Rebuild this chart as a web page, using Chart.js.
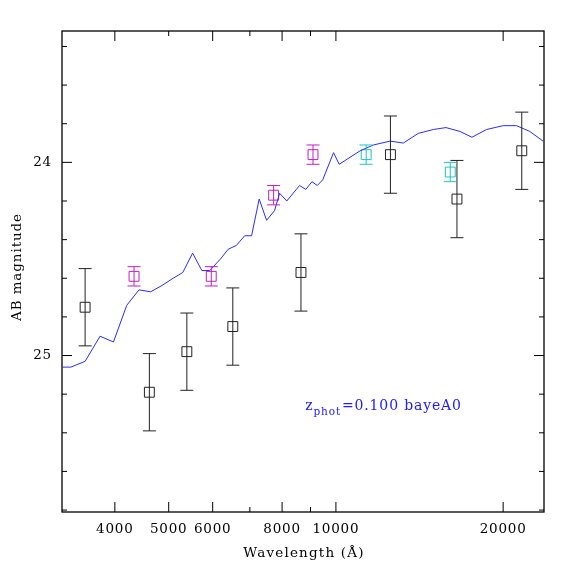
<!DOCTYPE html>
<html>
<head>
<meta charset="utf-8">
<script src="https://cdn.jsdelivr.net/npm/chart.js@4.4.1/dist/chart.umd.min.js"></script>
<style>
  html, body { margin: 0; padding: 0; background: #fff; }
  #wrap { width: 574px; height: 574px; }
</style>
</head>
<body>
<div id="wrap"><canvas id="sedChart" width="574" height="574"></canvas></div>
<script>
// model SED (blue line)
const modelWave = [3220, 3333, 3536, 3762, 3977, 4202, 4421, 4640, 4845, 5093, 5301, 5521, 5737, 5928,
    6198, 6397, 6620, 6850, 7050, 7276, 7502, 7753, 7919, 8157, 8600, 8828, 9056, 9257, 9469, 9901,
    10137, 11057, 11683, 12518, 13224, 14068, 14971, 15780, 16721, 17571, 18668, 20000, 21140, 22336, 23594];
const modelMag = [25.06, 25.06, 25.03, 24.90, 24.93, 24.74, 24.66, 24.67, 24.64, 24.60, 24.57, 24.47, 24.56, 24.56,
    24.50, 24.45, 24.43, 24.38, 24.38, 24.19, 24.30, 24.25, 24.16, 24.20, 24.12, 24.14, 24.10, 24.12, 24.09, 23.95,
    24.01, 23.94, 23.91, 23.89, 23.90, 23.85, 23.83, 23.82, 23.84, 23.87, 23.83, 23.81, 23.81, 23.84, 23.89];

// observed photometry
const blackWave = [3536, 4615, 5391, 6522, 8651, 12535, 16515, 21605];
const blackMag = [24.75, 25.19, 24.98, 24.85, 24.57, 23.96, 24.19, 23.94];
const blackErr = [0.20, 0.20, 0.20, 0.20, 0.20, 0.20, 0.20, 0.20];

const magentaWave = [4331, 5965, 7724, 9094];
const magentaMag = [24.59, 24.59, 24.17, 23.96];
const magentaErr = [0.05, 0.05, 0.05, 0.05];

const cyanWave = [11336, 16065];
const cyanMag = [23.96, 24.05];
const cyanErr = [0.05, 0.05];

// axes
const xLabelTicks = [4000, 5000, 6000, 8000, 10000, 20000];
const xTopMajor = [4000, 6000, 8000, 10000, 20000];
const xTopMinor = [5000, 7000, 9000];
const xBottomMinor = [7000, 9000];
const yLabelTicks = [24, 25];
const yMinorTicks = [23.4, 23.6, 23.8, 24.2, 24.4, 24.6, 24.8, 25.2, 25.4, 25.6, 25.8];

const noteWave = 8809;
const noteMag = 25.28;

const FONT = '"DejaVu Serif", serif';

function toXY(xs, ys) {
    return xs.map((x, i) => ({ x: x, y: ys[i] }));
}

// the reference lettering is wide, so space the glyphs out a little
const wideText = {
    id: 'wideText',
    beforeDraw(chart) { chart.ctx.letterSpacing = '0.8px'; }
};

const errorBars = {
    id: 'errorBars',
    afterDatasetsDraw(chart) {
        const ctx = chart.ctx;
        const xs = chart.scales.x, ys = chart.scales.y;
        chart.data.datasets.forEach(ds => {
            if (!ds.errors) return;
            ctx.save();
            ctx.strokeStyle = ds.borderColor;
            ctx.lineWidth = 1;
            ds.data.forEach((p, i) => {
                const px = xs.getPixelForValue(p.x);
                const top = ys.getPixelForValue(p.y - ds.errors[i]);
                const bot = ys.getPixelForValue(p.y + ds.errors[i]);
                ctx.beginPath();
                ctx.moveTo(px, top); ctx.lineTo(px, bot);
                ctx.moveTo(px - 6.5, top); ctx.lineTo(px + 6.5, top);
                ctx.moveTo(px - 6.5, bot); ctx.lineTo(px + 6.5, bot);
                ctx.stroke();
            });
            ctx.restore();
        });
    }
};

const frameAndText = {
    id: 'frameAndText',
    afterDraw(chart) {
        const ctx = chart.ctx;
        const a = chart.chartArea;
        const xs = chart.scales.x, ys = chart.scales.y;
        ctx.save();
        ctx.strokeStyle = '#000';
        ctx.lineWidth = 1.3;
        ctx.strokeRect(a.left, a.top, a.right - a.left, a.bottom - a.top);

        ctx.lineWidth = 1;
        ctx.beginPath();
        // bottom / top ticks
        xLabelTicks.forEach(v => {
            const px = xs.getPixelForValue(v);
            ctx.moveTo(px, a.bottom); ctx.lineTo(px, a.bottom - 10);
        });
        xBottomMinor.forEach(v => {
            const px = xs.getPixelForValue(v);
            ctx.moveTo(px, a.bottom); ctx.lineTo(px, a.bottom - 5);
        });
        xTopMajor.forEach(v => {
            const px = xs.getPixelForValue(v);
            ctx.moveTo(px, a.top); ctx.lineTo(px, a.top + 10);
        });
        xTopMinor.forEach(v => {
            const px = xs.getPixelForValue(v);
            ctx.moveTo(px, a.top); ctx.lineTo(px, a.top + 5);
        });
        // left / right ticks
        yLabelTicks.forEach(v => {
            const py = ys.getPixelForValue(v);
            ctx.moveTo(a.left, py); ctx.lineTo(a.left + 10, py);
            ctx.moveTo(a.right, py); ctx.lineTo(a.right - 10, py);
        });
        yMinorTicks.forEach(v => {
            const py = ys.getPixelForValue(v);
            ctx.moveTo(a.left, py); ctx.lineTo(a.left + 5, py);
            ctx.moveTo(a.right, py); ctx.lineTo(a.right - 5, py);
        });
        ctx.stroke();

        // axis titles
        ctx.fillStyle = '#000';
        ctx.font = '13.5px ' + FONT;
        ctx.letterSpacing = '1.2px';
        ctx.textAlign = 'center';
        ctx.textBaseline = 'middle';
        ctx.fillText('Wavelength (\u00C5)', (a.left + a.right) / 2 + 1, a.bottom + 41);
        ctx.save();
        ctx.translate(17, 267);
        ctx.rotate(-Math.PI / 2);
        ctx.letterSpacing = '0.9px';
        ctx.fillText('AB magnitude', 0, 0);
        ctx.restore();

        // redshift note
        const nx = xs.getPixelForValue(noteWave);
        const ny = ys.getPixelForValue(noteMag);
        ctx.fillStyle = '#2020ff';
        ctx.textAlign = 'left';
        ctx.textBaseline = 'alphabetic';
        ctx.letterSpacing = '0.85px';
        ctx.font = '14px ' + FONT;
        ctx.fillText('z', nx, ny);
        let w = ctx.measureText('z').width;
        ctx.font = '10.5px ' + FONT;
        ctx.fillText('phot', nx + w, ny + 5);
        w += ctx.measureText('phot').width;
        ctx.font = '14px ' + FONT;
        ctx.fillText('=0.100 bayeA0', nx + w + 1, ny);
        ctx.restore();
    }
};

const pointStyleBase = {
    type: 'scatter',
    pointStyle: 'rect',
    pointRadius: 7,
    pointHoverRadius: 7,
    borderWidth: 1,
    backgroundColor: 'rgba(0,0,0,0)'
};

new Chart(document.getElementById('sedChart'), {
    type: 'scatter',
    data: {
        datasets: [
            {
                type: 'line',
                label: 'model',
                data: toXY(modelWave, modelMag),
                borderColor: '#2a2aff',
                borderWidth: 1,
                pointRadius: 0,
                tension: 0,
                fill: false
            },
            Object.assign({}, pointStyleBase, {
                label: 'obs',
                data: toXY(blackWave, blackMag),
                errors: blackErr,
                borderColor: '#222222'
            }),
            Object.assign({}, pointStyleBase, {
                label: 'magenta',
                data: toXY(magentaWave, magentaMag),
                errors: magentaErr,
                borderColor: '#c41ec4'
            }),
            Object.assign({}, pointStyleBase, {
                label: 'cyan',
                data: toXY(cyanWave, cyanMag),
                errors: cyanErr,
                borderColor: '#1ec4c8'
            })
        ]
    },
    options: {
        responsive: false,
        animation: false,
        layout: { padding: { top: 31, right: 30, left: 0, bottom: 0 } },
        plugins: { legend: { display: false }, tooltip: { enabled: false } },
        scales: {
            x: {
                type: 'logarithmic',
                min: 3213,
                max: 23690,
                grid: { display: false, drawTicks: false },
                border: { display: false },
                afterBuildTicks: s => { s.ticks = xLabelTicks.map(v => ({ value: v })); },
                afterFit: s => { s.height = 62; },
                ticks: {
                    autoSkip: false,
                    maxRotation: 0,
                    padding: 9,
                    color: '#000',
                    font: { family: FONT, size: 13.5 },
                    callback: v => String(v)
                }
            },
            y: {
                type: 'linear',
                reverse: true,
                min: 23.32,
                max: 25.81,
                grid: { display: false, drawTicks: false },
                border: { display: false },
                afterBuildTicks: s => { s.ticks = yLabelTicks.map(v => ({ value: v })); },
                afterFit: s => { s.width = 62; },
                ticks: {
                    padding: 10,
                    color: '#000',
                    font: { family: FONT, size: 13.5 },
                    callback: v => String(v)
                }
            }
        }
    },
    plugins: [wideText, errorBars, frameAndText]
});
</script>
</body>
</html>
